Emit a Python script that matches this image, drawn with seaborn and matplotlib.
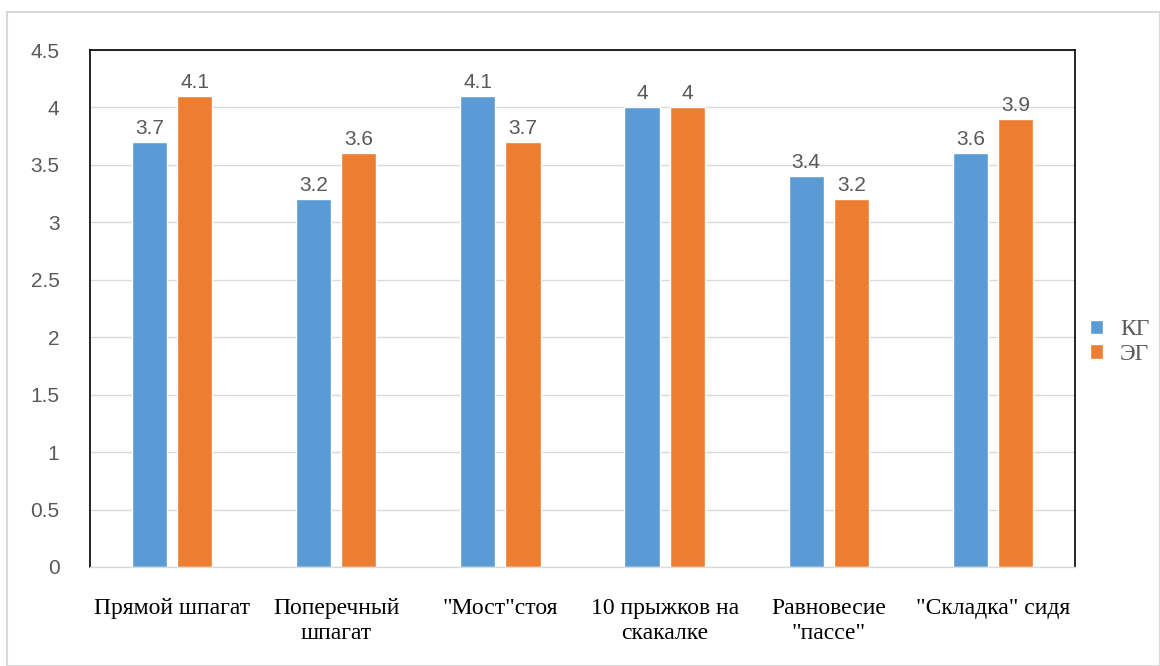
import matplotlib
matplotlib.use("Agg")
import matplotlib.pyplot as plt
import seaborn as sns
import pandas as pd

categories = ["Прямой шпагат", "Поперечный\nшпагат", "\"Мост\"стоя",
              "10 прыжков на\nскакалке", "Равновесие\n\"пассе\"", "\"Складка\" сидя"]
kg_values = [3.7, 3.2, 4.1, 4.0, 3.4, 3.6]
eg_values = [4.1, 3.6, 3.7, 4.0, 3.2, 3.9]
groups = ["КГ", "ЭГ"]
colors = ["#5B9BD5", "#ED7D31"]
y_ticks = [0, 0.5, 1, 1.5, 2, 2.5, 3, 3.5, 4, 4.5]

df = pd.DataFrame({
    "cat": categories * 2,
    "group": [groups[0]] * len(categories) + [groups[1]] * len(categories),
    "value": kg_values + eg_values,
})

sns.set_theme(style="white")
plt.rcParams["font.family"] = ["Liberation Sans", "DejaVu Sans"]

fig = plt.figure(figsize=(11.6, 6.66), dpi=100)
ax = fig.add_axes([90 / 1160, 1 - 567 / 666, 985 / 1160, 517 / 666])

sns.barplot(data=df, x="cat", y="value", hue="group", palette=colors,
            order=categories, hue_order=groups, width=0.55, gap=0.22,
            saturation=1, ax=ax, legend=True)

for cont in ax.containers:
    labels = [f"{v:g}" for v in cont.datavalues]
    ax.bar_label(cont, labels=labels, padding=3, fontsize=15, color="#595959",
                 family="Liberation Sans")

ax.set_ylim(0, 4.5)
ax.set_yticks(y_ticks)
ax.set_yticklabels([f"{t:g}" for t in y_ticks], fontsize=15, color="#595959")
ax.set_xlim(-0.5, len(categories) - 0.5)
ax.set_xticks(range(len(categories)))
ax.set_xticklabels(categories, fontsize=17, color="#000000", family="Liberation Serif",
                   linespacing=1.3)
ax.tick_params(axis="y", length=0, pad=22)
ax.tick_params(axis="x", length=0, pad=22)
ax.set_xlabel("")
ax.set_ylabel("")
ax.yaxis.grid(True, color="#D9D9D9", linewidth=1)
ax.set_axisbelow(True)

for side in ["left", "top", "right"]:
    ax.spines[side].set_color("#000000")
    ax.spines[side].set_linewidth(1.2)
ax.spines["bottom"].set_color("#D9D9D9")
ax.spines["bottom"].set_linewidth(1)

leg = ax.legend(loc="center left", bbox_to_anchor=(1.006, 0.435), frameon=False,
                prop={"family": "Liberation Serif", "size": 17},
                handlelength=0.55, handleheight=0.55, handletextpad=0.7,
                labelspacing=0.15, borderaxespad=0)
for t in leg.get_texts():
    t.set_color("#595959")

# light outer border around the whole chart
fig.patches.append(plt.Rectangle((7 / 1160, 0), 1 - 7 / 1160, 1 - 12 / 666,
                                 transform=fig.transFigure, fill=False,
                                 edgecolor="#D9D9D9", linewidth=1.5))

fig.savefig("out.png", dpi=100)
